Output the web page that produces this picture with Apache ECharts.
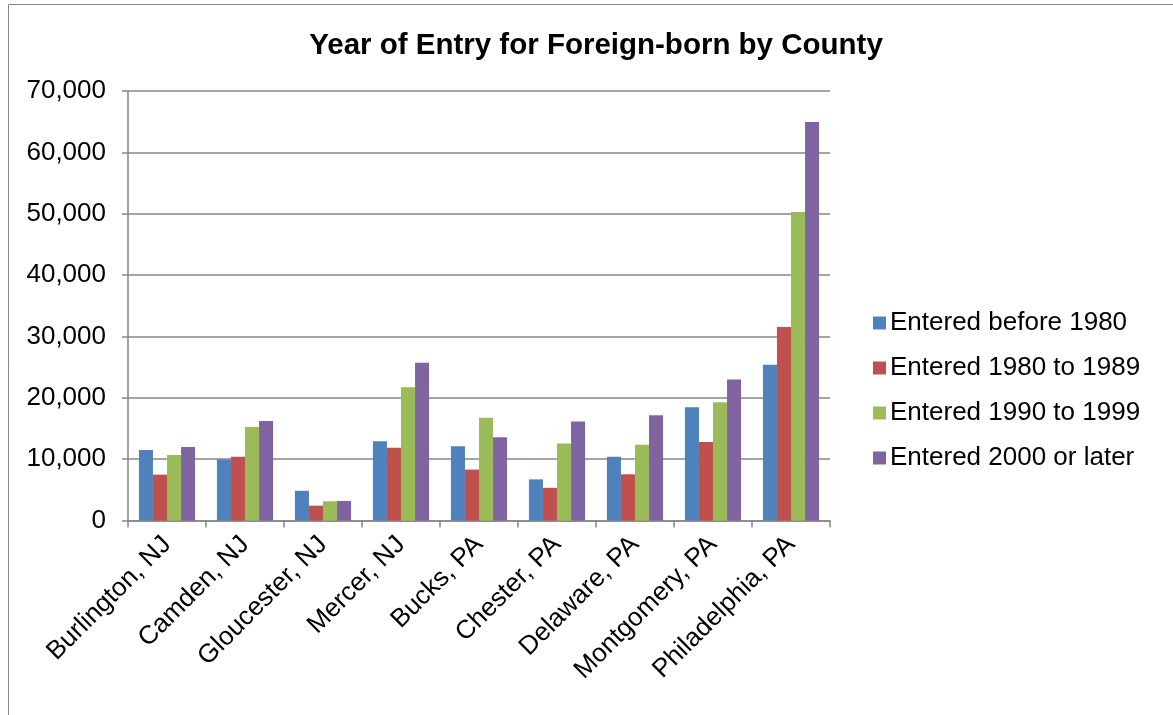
<!DOCTYPE html>
<html><head><meta charset="utf-8">
<script src="https://cdn.jsdelivr.net/npm/echarts@6/dist/echarts.min.js"></script>
<style>html,body{margin:0;padding:0;background:#fff}#c{width:1173px;height:715px}</style>
</head><body><div id="c"></div>
<script>
const categories = ["Burlington, NJ","Camden, NJ","Gloucester, NJ","Mercer, NJ","Bucks, PA","Chester, PA","Delaware, PA","Montgomery, PA","Philadelphia, PA"];
const seriesNames = ["Entered before 1980","Entered 1980 to 1989","Entered 1990 to 1999","Entered 2000 or later"];
const before1980 = [11480, 9950, 4840, 12910, 12090, 6700, 10380, 18460, 25380];
const y1980to1989 = [7470, 10380, 2420, 11870, 8300, 5330, 7530, 12800, 31520];
const y1990to1999 = [10660, 15220, 3130, 21700, 16760, 12530, 12360, 19290, 50270];
const y2000later = [11980, 16210, 3190, 25700, 13570, 16150, 17140, 22970, 64950];
const yTicks = [0,10000,20000,30000,40000,50000,60000,70000];
const colors = ["#4F81BD","#C0504D","#9BBB59","#8064A2"];
const values = [before1980, y1980to1989, y1990to1999, y2000later];

const chart = echarts.init(document.getElementById('c'));
const font = "Liberation Sans, Arial, sans-serif";
chart.setOption({
  animation:false,
  color: colors,
  textStyle:{fontFamily:font},
  title:{text:"Year of Entry for Foreign-born by County", left:591, top:26, textAlign:'center',
    textStyle:{fontSize:29.5, fontWeight:'bold', color:'#000', fontFamily:font}},
  graphic:[{type:'rect', shape:{x:8.5,y:4.5,width:1180,height:720}, style:{fill:'none', stroke:'#888', lineWidth:1}, silent:true}],
  legend:{orient:'vertical', left:868, top:305, itemWidth:13, itemHeight:13, itemGap:19,
    icon:'rect', textStyle:{fontSize:26, color:'#000', fontFamily:font, padding:[0,0,0,-1]}, data:seriesNames},
  grid:{left:128, right:343, top:91, bottom:194.5, containLabel:false},
  xAxis:{type:'category', data:categories,
    axisLine:{lineStyle:{color:'#868686', width:1.5}},
    axisTick:{show:true, alignWithLabel:false, length:7, lineStyle:{color:'#868686', width:1.5}},
    axisLabel:{rotate:45, fontSize:26, color:'#000', margin:20, interval:0, fontFamily:font}},
  yAxis:{type:'value', min:0, max:70000, interval:10000,
    axisLine:{show:true, lineStyle:{color:'#868686', width:1.5}},
    axisTick:{show:true, length:6, lineStyle:{color:'#868686', width:1.5}},
    splitLine:{lineStyle:{color:'#868686', width:1.5}},
    axisLabel:{fontSize:26, color:'#000', margin:22, fontFamily:font,
      formatter:v=>v.toLocaleString('en-US')}},
  series: seriesNames.map((n,i)=>({name:n, type:'bar', data:values[i], barGap:'0%', barCategoryGap:'28%',
    itemStyle:{color:colors[i]}}))
});
</script></body></html>
